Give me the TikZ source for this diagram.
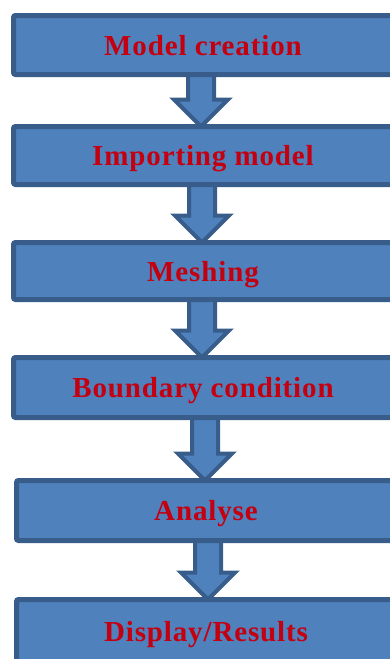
\documentclass[tikz,border=0pt]{standalone}
\usepackage{fontspec}
\setmainfont{Liberation Serif}[LetterSpace=3]
\usetikzlibrary{backgrounds}
\definecolor{boxfill}{RGB}{79,129,189}
\definecolor{boxline}{RGB}{56,93,138}
\definecolor{labelred}{RGB}{196,0,16}
\tikzset{
  stage/.style={draw=boxline, fill=boxfill, line width=5pt, rounded corners=2pt,
    inner sep=0pt, outer sep=0pt, minimum width=379pt, text=labelred,
    text height=20pt, text depth=0pt,
    font=\fontsize{29}{32}\selectfont\bfseries},
  blockarrow/.style={draw=boxline, fill=boxfill, line width=4pt, line join=miter}
}
% block arrow from the bottom of one stage to the top of the next, centred on a given x
\newcommand\stagearrow[3]{%
  \path (#1.south -| #3) coordinate (s) (#2.north -| #3) coordinate (t);
  \draw[blockarrow] ([xshift=-13pt]s) -- ([xshift=-13pt,yshift=27pt]t)
    -- ([xshift=-27pt,yshift=27pt]t) -- (t) -- ([xshift=27pt,yshift=27pt]t)
    -- ([xshift=13pt,yshift=27pt]t) -- ([xshift=13pt]s);}
\begin{document}
\begin{tikzpicture}[x=1pt,y=-1pt]
  \useasboundingbox (0,0) rectangle (390,659);
  \node[stage, minimum height=59pt] (b1) at (203,45) {Model creation};
  \node[stage, minimum height=58pt] (b2) at (203,155.5) {Importing model};
  \node[stage, minimum height=57pt] (b3) at (203,271) {Meshing};
  \node[stage, minimum height=60pt] (b4) at (203,387.5) {Boundary condition};
  \node[stage, minimum height=60pt] (b5) at (206,510.5) {Analyse};
  \node[stage, minimum height=63pt] (b6) at (206,631) {Display/Results};
  \coordinate (ax1) at (201,0);
  \coordinate (ax2) at (202,0);
  \coordinate (ax3) at (202,0);
  \coordinate (ax4) at (205,0);
  \coordinate (ax5) at (208,0);
  \begin{scope}[on background layer]
    \stagearrow{b1}{b2}{ax1}
    \stagearrow{b2}{b3}{ax2}
    \stagearrow{b3}{b4}{ax3}
    \stagearrow{b4}{b5}{ax4}
    \stagearrow{b5}{b6}{ax5}
  \end{scope}
\end{tikzpicture}
\end{document}
